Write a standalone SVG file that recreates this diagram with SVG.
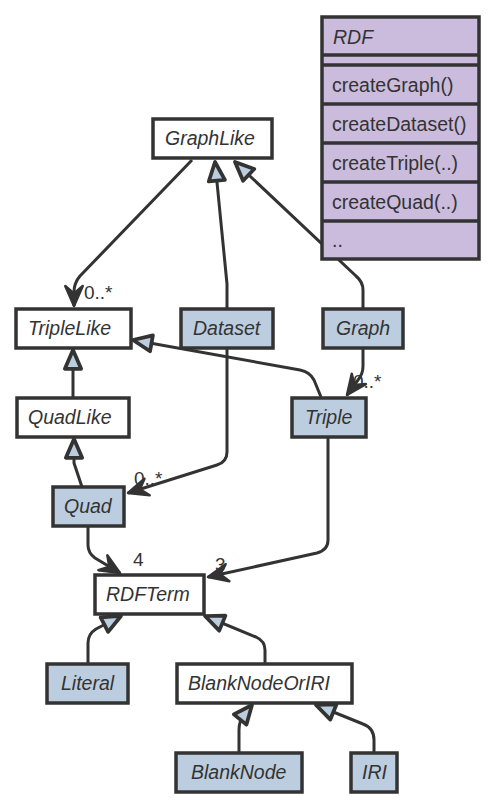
<svg xmlns="http://www.w3.org/2000/svg" width="494" height="807" viewBox="0 0 494 807">
<defs>
<style>
.box{stroke:#333;stroke-width:3.5;}
.w{fill:#fff;}
.b{fill:#bccddf;}
.p{fill:#cbbcdd;}
.t{font-family:"Liberation Sans",Arial,sans-serif;font-size:19.5px;font-style:italic;fill:#333;}
.m{font-family:"Liberation Sans",Arial,sans-serif;font-size:19.5px;fill:#333;}
.l{font-family:"Liberation Sans",Arial,sans-serif;font-size:19px;fill:#333;}
.c{fill:none;stroke:#333;stroke-width:3;stroke-linejoin:round;}
.inh{marker-end:url(#tri);}
.asc{marker-end:url(#vee);}
</style>
<marker id="tri" markerUnits="userSpaceOnUse" orient="auto" refX="0" refY="0" markerWidth="30" markerHeight="30" viewBox="-20 -10 24 20" overflow="visible">
<path d="M0,0 L-15,-6.5 L-15,6.5 Z" fill="#bccddf" stroke="#333" stroke-width="3" stroke-linejoin="round"/>
</marker>
<marker id="vee" markerUnits="userSpaceOnUse" orient="auto" refX="0" refY="0" markerWidth="30" markerHeight="30" viewBox="-20 -10 24 20" overflow="visible">
<path d="M0,0 L-16,-7 L-10,0 L-16,7 Z" fill="#333" stroke="#333" stroke-width="2" stroke-linejoin="round"/>
</marker>
</defs>
<rect width="494" height="807" fill="#fff"/>
<g id="connectors">
<path class="c asc" d="M192,160 L80,276 Q74,283 74,292 L74,306"/>
<text class="l" x="84" y="299">0..*</text>
<path class="c inh" d="M227,309 L227,284 L215,162"/>
<path class="c inh" d="M363,309 L363,290 Q363,282 356,276 L235,162"/>
<path class="c inh" d="M321,397 L314,380 Q310,372 300,370 L133,340"/>
<path class="c asc" d="M363,348 L363,366 Q363,374 358,380 L347,395"/>
<text class="l" x="353" y="388">0..*</text>
<path class="c inh" d="M73,398 L73,350"/>
<path class="c inh" d="M82,487 L74,463 L74,439"/>
<path class="c asc" d="M227,348 L227,452 Q227,462 217,465 L128,493"/>
<text class="l" x="134" y="485">0..*</text>
<path class="c asc" d="M88,526 L88,545 Q88,553 95,558 L120,573"/>
<text class="l" x="133" y="566">4</text>
<path class="c asc" d="M328,437 L328,540 Q328,550 317,553 L208,577"/>
<text class="l" x="215" y="571">3</text>
<path class="c inh" d="M88,664 L88,643 Q88,634 96,629 L121,616"/>
<path class="c inh" d="M265,664 L265,650 Q265,641 256,637 L205,616"/>
<path class="c inh" d="M239,753 L239,730 Q239,722 243,716 L252,705"/>
<path class="c inh" d="M374,753 L374,740 Q374,728 363,724 L316,705"/>
</g>
<g id="RDF">
<rect class="box p" x="322" y="17" width="157" height="242"/>
<line class="box" x1="322" y1="55" x2="479" y2="55"/>
<line class="box" x1="322" y1="65" x2="479" y2="65"/>
<line class="box" x1="322" y1="104" x2="479" y2="104"/>
<line class="box" x1="322" y1="143" x2="479" y2="143"/>
<line class="box" x1="322" y1="182" x2="479" y2="182"/>
<line class="box" x1="322" y1="221" x2="479" y2="221"/>
<text class="t" x="333" y="44">RDF</text>
<text class="m" x="332" y="92">createGraph()</text>
<text class="m" x="332" y="131">createDataset()</text>
<text class="m" x="332" y="170">createTriple(..)</text>
<text class="m" x="332" y="209">createQuad(..)</text>
<text class="m" x="332" y="247">..</text>
</g>
<g id="GraphLike"><rect class="box w" x="153" y="119" width="119" height="39"/><text class="t" x="165" y="145">GraphLike</text></g>
<g id="TripleLike"><rect class="box w" x="16" y="309" width="115" height="39"/><text class="t" x="28" y="335">TripleLike</text></g>
<g id="Dataset"><rect class="box b" x="181" y="309" width="92" height="39"/><text class="t" x="193" y="335">Dataset</text></g>
<g id="Graph"><rect class="box b" x="323" y="309" width="80" height="39"/><text class="t" x="336" y="335">Graph</text></g>
<g id="QuadLike"><rect class="box w" x="17" y="398" width="112" height="39"/><text class="t" x="28" y="424">QuadLike</text></g>
<g id="Triple"><rect class="box b" x="292" y="398" width="74" height="39"/><text class="t" x="305" y="424">Triple</text></g>
<g id="Quad"><rect class="box b" x="53" y="487" width="71" height="39"/><text class="t" x="64" y="513">Quad</text></g>
<g id="RDFTerm"><rect class="box w" x="95" y="575" width="109" height="39"/><text class="t" x="106" y="601">RDFTerm</text></g>
<g id="Literal"><rect class="box b" x="47" y="664" width="81" height="39"/><text class="t" x="61" y="690">Literal</text></g>
<g id="BlankNodeOrIRI"><rect class="box w" x="177" y="664" width="175" height="39"/><text class="t" x="188" y="690">BlankNodeOrIRI</text></g>
<g id="BlankNode"><rect class="box b" x="176" y="753" width="126" height="39"/><text class="t" x="191" y="779">BlankNode</text></g>
<g id="IRI"><rect class="box b" x="351" y="753" width="46" height="39"/><text class="t" x="362" y="779">IRI</text></g>
</svg>
